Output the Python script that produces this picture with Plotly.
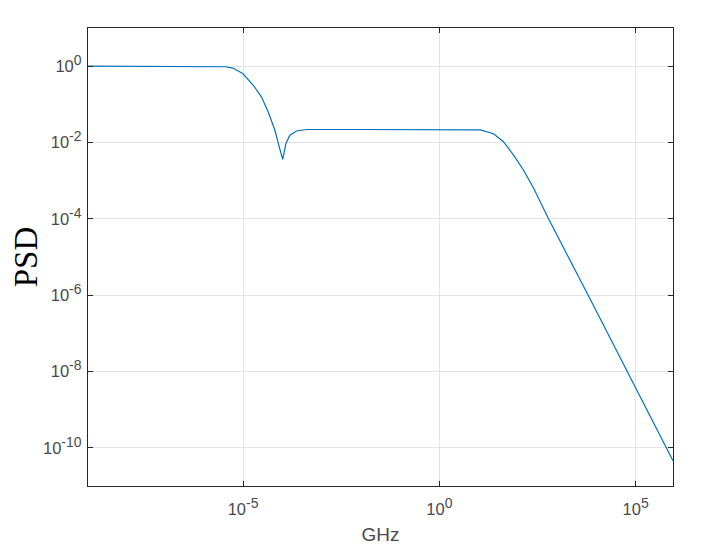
import plotly.graph_objects as go

# values (frequency in GHz, PSD)
freq_ghz = [1.12e-9, 3.16e-7, 2.57e-6, 3.55e-6, 5.5e-6, 1.0e-5, 1.82e-5, 2.95e-5,
            4.37e-5, 6.46e-5, 8.3e-5, 1.02e-4, 1.23e-4, 1.55e-4, 2.29e-4, 4.17e-4,
            1e-2, 1.0, 11.0, 24.0, 42.7, 77.6, 138, 251, 603, 6.9e3, 6.0e4, 8.9e5]
psd = [1.0, 1.0, 1.0, 0.966, 0.891, 0.631, 0.316, 0.155,
       0.063, 0.0209, 0.00776, 0.00363, 0.00933, 0.0155, 0.020, 0.0219,
       0.0219, 0.0219, 0.0214, 0.017, 0.0105, 0.00468, 0.0019, 6.3e-4, 1.0e-4, 7.9e-7, 1.0e-8, 4.6e-11]

x_ticks = [1e-5, 1, 1e5]
x_exps = ["-5", "0", "5"]
y_ticks = [1e-10, 1e-8, 1e-6, 1e-4, 1e-2, 1]
y_exps = ["-10", "-8", "-6", "-4", "-2", "0"]

x_title = "GHz"
y_title = "PSD"


def pow_label(e):
    # MATLAB draws the exponent larger than plotly's default <sup>
    return f'10<sup><span style="font-size:14px">{e}</span></sup>'


axis_col = "#262626"
grid_col = "#e3e3e3"
tick_font = dict(family="Liberation Sans, Arial", size=16.5, color="#4a4a4a")

fig = go.Figure()
fig.add_trace(go.Scatter(x=freq_ghz, y=psd, mode="lines",
                         line=dict(color="#0072BD", width=1.2),
                         showlegend=False))

fig.update_xaxes(type="log", range=[-8.95, 5.95],
                 tickmode="array", tickvals=x_ticks, ticktext=[pow_label(e) for e in x_exps],
                 showline=True, linecolor=axis_col, linewidth=1.3, mirror="ticks",
                 ticks="inside", ticklen=5, tickcolor=axis_col,
                 showgrid=True, gridcolor=grid_col, gridwidth=1,
                 zeroline=False, tickfont=tick_font, ticklabelstandoff=8,
                 title=dict(text=x_title, standoff=10,
                            font=dict(family="Liberation Sans, Arial", size=19, color="#4a4a4a")))
fig.update_yaxes(type="log", range=[-11, 1],
                 tickmode="array", tickvals=y_ticks, ticktext=[pow_label(e) for e in y_exps],
                 showline=True, linecolor=axis_col, linewidth=1.3, mirror="ticks",
                 ticks="inside", ticklen=5, tickcolor=axis_col,
                 showgrid=True, gridcolor=grid_col, gridwidth=1,
                 zeroline=False, tickfont=tick_font, ticklabelstandoff=2,
                 title=dict(text=y_title, standoff=14,
                            font=dict(family="Liberation Serif, Times New Roman", size=33, color="black")))

# the page body adds ~8px offset, so margins are trimmed to land the plot box
fig.update_layout(width=702, height=550,
                  margin=dict(l=80, r=37, t=20, b=72, autoexpand=False),
                  plot_bgcolor="white", paper_bgcolor="white")

fig.write_html("out.html")
